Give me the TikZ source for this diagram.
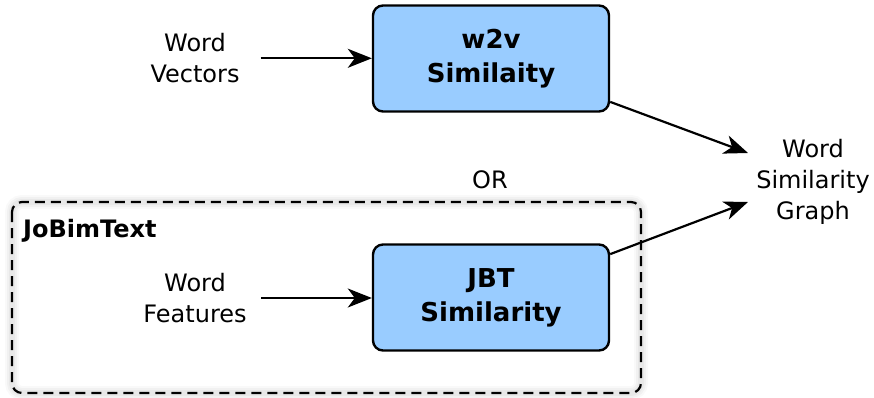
\documentclass[tikz,border=0pt]{standalone}
\usepackage{fontspec}
\setmainfont{DejaVu Sans}
\usetikzlibrary{arrows.meta}
\definecolor{boxblue}{RGB}{153,204,255}
\tikzset{
  procbox/.style={draw=black, line width=2.4pt, fill=boxblue, rounded corners=10pt,
    minimum width=236pt, minimum height=106pt, align=center, inner sep=0pt,
    font=\bfseries\fontsize{26}{34}\selectfont},
  label/.style={align=center, inner sep=0pt, font=\fontsize{24}{31}\selectfont},
  arr/.style={line width=2.2pt, -{Stealth[length=24pt, width=19pt, inset=7pt]}},
  groupbox/.style={draw=black, line width=2.2pt, dash pattern=on 10pt off 6pt, rounded corners=10pt},
}
\begin{document}
\begin{tikzpicture}[x=1pt, y=-1pt]
\useasboundingbox (0,0) rectangle (874,398);

% soft glow around the JoBimText group
\foreach \w/\o in {14/0.025, 10/0.03, 6/0.035}
  \draw[line width=\w pt, black, opacity=\o, rounded corners=10pt] (12,202) rectangle (641,393);
\draw[groupbox] (12,202) rectangle (641,393);
\node[anchor=west, inner sep=0pt, font=\bfseries\fontsize{24}{30}\selectfont] (jbtlabel) at (23,231) {JoBimText};

% processing steps
\node[procbox] (w2v) at (491,58.5) {w2v\\Similaity};
\node[procbox] (jbt) at (491,297.5) {JBT\\Similarity};

% inputs and output
\node[label] (vectors) at (195,58.3) {Word\\Vectors};
\node[label] (features) at (195,298) {Word\\Features};
\node[label] (graph) at (813,182) {Word\\Similarity\\Graph};
\node[label] (or) at (490,180) {OR};

\coordinate (gtop) at (748,153);
\coordinate (gbot) at (748,202);

\draw[arr, shorten <=21pt] (vectors.east) -- (vectors.east -| w2v.west);
\draw[arr, shorten <=14.5pt] (features.east) -- (features.east -| jbt.west);
\draw[arr] (w2v.-20) -- (gtop);
\draw[arr] (jbt.20) -- (gbot);
\end{tikzpicture}
\end{document}
